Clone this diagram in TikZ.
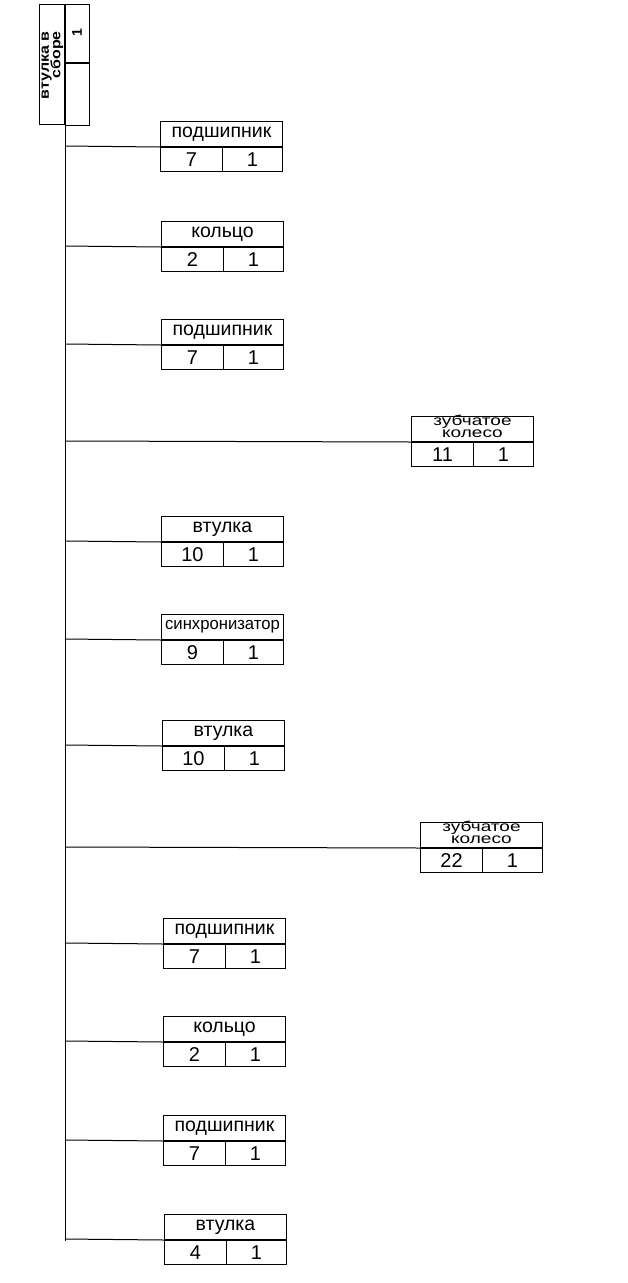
\documentclass[tikz,border=0pt]{standalone}
\usepackage{fontspec}
\setmainfont{Liberation Sans}
\lineskiplimit=-20pt
\tikzset{
  cell/.style={draw, line width=1pt, inner sep=0pt, minimum height=25pt, font=\fontsize{20}{20}\selectfont},
  titlebox/.style={cell, minimum width=122pt, anchor=north west, font=\fontsize{19.5}{19.5}\selectfont},
  numbox/.style={cell, minimum width=62pt, minimum height=24pt},
  qtybox/.style={cell, minimum width=60pt, minimum height=24pt},
  geartxt/.style={inner sep=0pt, anchor=base, font=\fontsize{19}{19}\selectfont},
  frame/.style={draw, line width=1pt, anchor=north west, inner sep=0pt},
  link/.style={line width=1pt},
}
\newcommand\compbox[6]{%
  \node[titlebox] (#1t) at (#2,#3) {#4};
  \node[numbox, anchor=north west] (#1n) at (#1t.south west) {#5};
  \node[qtybox, anchor=north east] (#1q) at (#1t.south east) {#6};
  \coordinate (#1s) at (65,#3+25);
  \draw[link] (#1s) -- (#1t.south west);
}
\newcommand\gearlabel[1]{%
  \node[geartxt] (#1g1) at ([yshift=-9pt]#1t.north) {\scalebox{1}[0.75]{зубчатое}};
  \node[geartxt] (#1g2) at ([yshift=-21pt]#1t.north) {\scalebox{1}[0.75]{колесо}};
}
\begin{document}
\begin{tikzpicture}[x=1pt,y=-1pt]
\useasboundingbox (0,0) rectangle (628,1283);
% top assembly box
\node[frame, minimum width=25pt, minimum height=120pt] (tl) at (39,4) {};
\node[frame, minimum width=24pt, minimum height=58pt] (tr1) at (tl.north east) {};
\node[frame, minimum width=24pt, minimum height=62pt] (tr2) at (tr1.south west) {};
\node[rotate=90, align=right, font=\bfseries\fontsize{16}{11.5}\selectfont, anchor=south east, inner sep=0pt] (tlt) at (63.5,31) {\scalebox{1}[0.85]{втулка в}\\\scalebox{1}[0.85]{сборе}};
\node[rotate=90, font=\bfseries\fontsize{14}{14}\selectfont, inner sep=0pt] (trt) at (77,33) {1};
% components
\compbox{a}{160}{121}{подшипник}{7}{1}
\compbox{b}{161}{221}{кольцо}{2}{1}
\compbox{c}{161}{319}{подшипник}{7}{1}
\compbox{d}{411}{416}{}{11}{1}
\gearlabel{d}
\compbox{e}{161}{516}{втулка}{10}{1}
\compbox{f}{161}{614}{\fontsize{17}{17}\selectfont\scalebox{0.98}[1]{синхронизатор}}{9}{1}
\compbox{g}{162}{720}{втулка}{10}{1}
\compbox{h}{420}{822}{}{22}{1}
\gearlabel{h}
\compbox{i}{163}{918}{подшипник}{7}{1}
\compbox{j}{163}{1016}{кольцо}{2}{1}
\compbox{k}{163}{1115}{подшипник}{7}{1}
\compbox{l}{164}{1214}{втулка}{4}{1}
% spine
\coordinate (end) at (65,1241);
\draw[link] (tl.south east) -- (end);
\end{tikzpicture}
\end{document}
